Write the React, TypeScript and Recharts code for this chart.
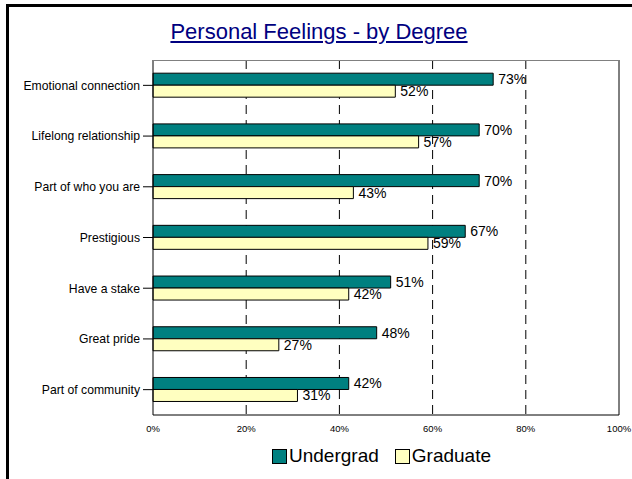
import { BarChart, Bar, XAxis, YAxis, CartesianGrid, LabelList, ReferenceLine } from 'recharts';

const categories = [
  'Emotional connection',
  'Lifelong relationship',
  'Part of who you are',
  'Prestigious',
  'Have a stake',
  'Great pride',
  'Part of community',
];
const undergrad = [73, 70, 70, 67, 51, 48, 42];
const graduate = [52, 57, 43, 59, 42, 27, 31];
const xTicks = [0, 20, 40, 60, 80, 100];

const TEAL = '#008080';
const YELLOW = '#FFFFC0';
const FONT = '"Liberation Sans", Arial, sans-serif';

const data = categories.map((name, i) => ({
  name,
  undergrad: undergrad[i],
  graduate: graduate[i],
}));

// legend below the plot
function LegendBox() {
  const items = [
    { label: 'Undergrad', color: TEAL },
    { label: 'Graduate', color: YELLOW },
  ];
  return (
    <div
      style={{
        position: 'absolute',
        left: 272,
        top: 445,
        display: 'flex',
        alignItems: 'center',
        fontFamily: FONT,
        fontSize: 19,
        color: '#000',
      }}
    >
      {items.map((it) => (
        <div key={it.label} style={{ display: 'flex', alignItems: 'center', marginRight: 16 }}>
          <span
            style={{
              width: 13,
              height: 13,
              background: it.color,
              border: '1px solid #000',
              marginRight: 2,
              display: 'inline-block',
            }}
          />
          <span>{it.label}</span>
        </div>
      ))}
    </div>
  );
}

export default function App() {
  return (
    <div
      style={{
        position: 'fixed',
        left: 0,
        top: 0,
        width: 632,
        height: 479,
        background: '#fff',
        overflow: 'hidden',
      }}
    >
      <div
        style={{
          position: 'absolute',
          left: 6,
          top: 4,
          width: 640,
          height: 490,
          borderLeft: '3px solid #000',
          borderTop: '3px solid #000',
        }}
      />
      <div
        style={{
          position: 'absolute',
          left: 0,
          top: 19,
          width: 638,
          textAlign: 'center',
          fontFamily: FONT,
          fontSize: 22,
          color: '#000080',
          textDecoration: 'underline',
        }}
      >
        Personal Feelings - by Degree
      </div>
      <div style={{ position: 'absolute', left: 0, top: 0 }}>
        <BarChart
          width={632}
          height={438}
          data={data}
          layout="vertical"
          margin={{ top: 60, right: 13, bottom: 0, left: 0 }}
          barCategoryGap="26%"
          barGap={0}
        >
          <CartesianGrid
            horizontal={false}
            vertical
            stroke="#000"
            strokeDasharray="9 6"
            verticalValues={[20, 40, 60, 80]}
          />
          <XAxis
            type="number"
            domain={[0, 100]}
            ticks={xTicks}
            tickFormatter={(v: number) => `${v}%`}
            height={23}
            tickLine={false}
            tickSize={0}
            tickMargin={10}
            axisLine={{ stroke: '#000' }}
            tick={{ fontSize: 9.5, fill: '#000', fontFamily: FONT }}
          />
          <YAxis
            type="category"
            dataKey="name"
            width={153}
            tickSize={10}
            tickMargin={3}
            tickLine={{ stroke: '#000' }}
            axisLine={{ stroke: '#000' }}
            tick={{ fontSize: 12.2, fill: '#000', fontFamily: FONT }}
            interval={0}
          />
          <ReferenceLine x={100} stroke="#000" />
          <Bar dataKey="undergrad" fill={TEAL} stroke="#000" strokeWidth={1} isAnimationActive={false}>
            <LabelList
              dataKey="undergrad"
              position="right"
              offset={5}
              formatter={(v: number) => `${v}%`}
              style={{ fontSize: 14, fill: '#000', fontFamily: FONT }}
            />
          </Bar>
          <Bar dataKey="graduate" fill={YELLOW} stroke="#000" strokeWidth={1} isAnimationActive={false}>
            <LabelList
              dataKey="graduate"
              position="right"
              offset={5}
              formatter={(v: number) => `${v}%`}
              style={{ fontSize: 14, fill: '#000', fontFamily: FONT }}
            />
          </Bar>
        </BarChart>
      </div>
      <div
        style={{
          position: 'absolute',
          left: 153,
          top: 60,
          width: 466,
          height: 1,
          background: '#808080',
        }}
      />
      <LegendBox />
    </div>
  );
}
